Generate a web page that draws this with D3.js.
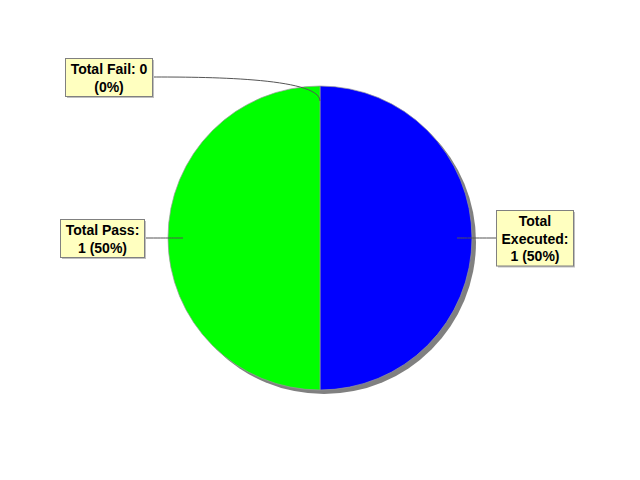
<!DOCTYPE html>
<html>
<head>
<meta charset="utf-8">
<script src="https://cdn.jsdelivr.net/npm/d3@7"></script>
<style>
body{margin:0;background:#fff}
text{font-family:"Liberation Sans",Arial,sans-serif;font-weight:bold;font-size:14px;fill:#000}
</style>
</head>
<body>
<svg width="640" height="480"></svg>
<script>
let categories=["Total Fail","Total Executed","Total Pass"]
let values=[0,1,1]
let colors=["#ff0000","#0000ff","#00ff00"]

let cx=320, cy=238, r=152
let total=d3.sum(values)
let svg=d3.select("svg")
let g=svg.append("g").attr("transform","translate("+cx+","+cy+")")

let pie=d3.pie().sort(null).value(d=>d)
let arcs=pie(values)
let arc=d3.arc().innerRadius(0).outerRadius(r)

// shadow
g.append("g").attr("transform","translate(4,4)")
  .selectAll("path").data(arcs.filter(d=>d.value>0)).enter()
  .append("path").attr("d",arc).attr("fill","#808080")

g.append("g").selectAll("path").data(arcs.filter(d=>d.value>0)).enter()
  .append("path").attr("d",arc)
  .attr("fill",d=>colors[d.index])
  .attr("stroke","#999").attr("stroke-width",0.7)

function wrap(words,maxw){
  let tmp=svg.append("text")
  let lines=[], cur=""
  words.forEach(w=>{
    let test=cur?cur+" "+w:w
    tmp.text(test)
    if(cur && tmp.node().getComputedTextLength()>maxw){lines.push(cur);cur=w}
    else cur=test
  })
  lines.push(cur)
  tmp.remove()
  return lines
}

let lineH=17.5
let labels=svg.append("g")
arcs.forEach(d=>{
  let mid=(d.startAngle+d.endAngle)/2
  let left=!(mid>0 && mid<Math.PI)
  let dir=left?1:-1
  let c=Math.abs(Math.cos(mid))
  let ly=cy-(r+9)*Math.cos(mid)
  let edge=left?cx-r-24+8*c:cx+r+24-8*c
  let ex=cx+(r+9)*Math.sin(mid), ey=cy-(r+9)*Math.cos(mid)
  let lx=cx+(r-15)*Math.sin(mid), lyy=cy-(r-15)*Math.cos(mid)

  labels.append("path")
    .attr("d","M"+edge+","+ly+"C"+(edge+dir*48)+","+ly+" "+ex+","+ey+" "+lx+","+lyy)
    .attr("fill","none").attr("stroke","#555").attr("stroke-width",1)

  let pct=Math.round(d.value/total*100)+"%"
  let str=categories[d.index]+": "+d.value+" ("+pct+")"
  let lines=wrap(str.split(" "),77)
  let tmp=svg.append("text")
  let w=d3.max(lines,s=>{tmp.text(s);return tmp.node().getComputedTextLength()})
  tmp.remove()
  let bw=Math.round(w+10), bh=lines.length*lineH+3
  let bx=left?edge-bw:edge
  let by=Math.round(ly-bh/2)
  let lg=labels.append("g")
  lg.append("rect").attr("x",bx+2).attr("y",by+2).attr("width",bw).attr("height",bh).attr("fill","#c0c0c0")
  lg.append("rect").attr("x",bx+0.5).attr("y",by+0.5).attr("width",bw).attr("height",bh)
    .attr("fill","#ffffc0").attr("stroke","#808080").attr("stroke-width",1)
  lg.selectAll("text").data(lines).enter().append("text")
    .attr("x",bx+bw/2+0.5).attr("y",(s,i)=>by+16+i*lineH)
    .attr("text-anchor","middle").text(s=>s)
})
</script>
</body>
</html>
